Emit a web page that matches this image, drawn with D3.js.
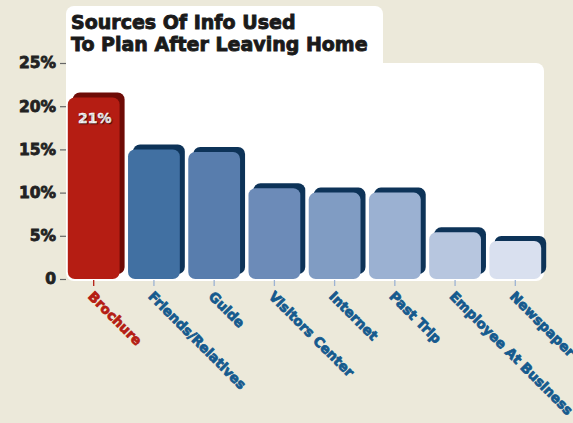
<!DOCTYPE html>
<html>
<head>
<meta charset="utf-8">
<script src="https://cdn.jsdelivr.net/npm/d3@7"></script>
<style>
  body { margin: 0; background: #ECE9DA; }
  svg { display: block; font-family: "DejaVu Sans", sans-serif; }
</style>
</head>
<body>
<div id="chart"></div>
<script>
// data
const sources = ["Brochure", "Friends/Relatives", "Guide", "Visitors Center", "Internet", "Past Trip", "Employee At Business", "Newspaper"];
const shares = [21, 15, 14.7, 10.5, 10, 10, 5.4, 4.4];
const barColors = ["#B51D13", "#4170A2", "#587DAD", "#6C8BB8", "#809CC3", "#9BB1D2", "#B7C6DF", "#D9E0EF"];
const yTicks = [0, 5, 10, 15, 20, 25];
const titleLines = ["Sources Of Info Used", "To Plan After Leaving Home"];

const width = 573, height = 423;
const margin = { top: 63, right: 30, bottom: 144, left: 66 };
const innerWidth = width - margin.left - margin.right;
const innerHeight = height - margin.top - margin.bottom;

const svg = d3.select("#chart")
  .append("svg")
  .attr("width", width)
  .attr("height", height);

// white panels: title tab + plot area
svg.append("rect")
  .attr("x", margin.left).attr("y", 6)
  .attr("width", 317).attr("height", 70)
  .attr("rx", 8).attr("fill", "#fff");
svg.append("rect")
  .attr("x", margin.left).attr("y", margin.top)
  .attr("width", innerWidth + 1).attr("height", innerHeight + 2)
  .attr("rx", 8).attr("fill", "#fff");

const title = svg.append("text")
  .attr("x", 71).attr("y", 29)
  .attr("font-size", "19px")
  .attr("font-weight", "bold")
  .attr("fill", "#1a1a1a")
  .attr("stroke", "#1a1a1a")
  .attr("stroke-width", 0.9);
titleLines.forEach((line, i) => {
  title.append("tspan").attr("x", 71).attr("dy", i === 0 ? 0 : 22).text(line);
});

const innerChart = svg.append("g")
  .attr("transform", `translate(${margin.left}, ${margin.top})`);

const xScale = d3.scaleBand()
  .domain(sources)
  .range([0, innerWidth])
  .paddingInner(0.14)
  .paddingOuter(0.03);

const yScale = d3.scaleLinear()
  .domain([0, 25])
  .range([innerHeight, 0]);

const shift = 5;

// shadow (back) bars
innerChart.selectAll("rect.back")
  .data(sources)
  .join("rect")
  .attr("class", "back")
  .attr("x", d => xScale(d) + shift)
  .attr("y", (d, i) => yScale(shares[i]) - shift)
  .attr("width", xScale.bandwidth())
  .attr("height", (d, i) => innerHeight - yScale(shares[i]))
  .attr("rx", 7)
  .attr("fill", (d, i) => i === 0 ? "#6E0B06" : "#0D3358");

// front bars
innerChart.selectAll("rect.front")
  .data(sources)
  .join("rect")
  .attr("class", "front")
  .attr("x", d => xScale(d))
  .attr("y", (d, i) => yScale(shares[i]))
  .attr("width", xScale.bandwidth())
  .attr("height", (d, i) => innerHeight - yScale(shares[i]))
  .attr("rx", 7)
  .attr("fill", (d, i) => barColors[i]);

// value label on the top bar
innerChart.append("text")
  .attr("x", xScale(sources[0]) + xScale.bandwidth() / 2 + 1)
  .attr("y", yScale(shares[0]) + 25)
  .attr("text-anchor", "middle")
  .attr("font-size", "14px")
  .attr("font-weight", "bold")
  .attr("fill", "#fff")
  .attr("stroke", "#fff")
  .attr("stroke-width", 0.4)
  .style("text-shadow", "1px 1px 1px rgba(0,0,0,0.6)")
  .text(shares[0] + "%");

// Y-axis
const yAxis = d3.axisLeft(yScale)
  .tickValues(yTicks)
  .tickSize(6)
  .tickPadding(4)
  .tickFormat(d => d === 0 ? "0" : d + "%");
const yG = innerChart.append("g").call(yAxis);
yG.select(".domain").remove();
yG.selectAll(".tick line").attr("stroke", "#666").attr("stroke-width", 1.2);
yG.selectAll(".tick text")
  .attr("font-size", "15.5px")
  .attr("font-weight", "bold")
  .attr("fill", "#222")
  .attr("stroke", "#222")
  .attr("stroke-width", 0.8)
  .attr("font-family", "DejaVu Sans, sans-serif");

// X-axis
const xAxis = d3.axisBottom(xScale).tickSize(6).tickPadding(6);
const xG = innerChart.append("g")
  .attr("transform", `translate(0, ${innerHeight + 1})`)
  .call(xAxis);
xG.select(".domain").remove();
xG.selectAll(".tick line")
  .attr("stroke", (d, i) => i === 0 ? "#B51D13" : "#9DB3D3")
  .attr("stroke-width", 1.3);
xG.selectAll(".tick text")
  .attr("x", 0).attr("y", 0).attr("dy", "0.35em")
  .attr("text-anchor", "start")
  .attr("transform", "translate(-3, 14) rotate(45)")
  .attr("font-size", "13.5px")
  .attr("font-weight", "bold")
  .attr("font-family", "DejaVu Sans, sans-serif")
  .attr("fill", (d, i) => i === 0 ? "#B51D13" : "#155A8E")
  .attr("stroke", (d, i) => i === 0 ? "#B51D13" : "#155A8E")
  .attr("stroke-width", 0.8);
</script>
</body>
</html>
